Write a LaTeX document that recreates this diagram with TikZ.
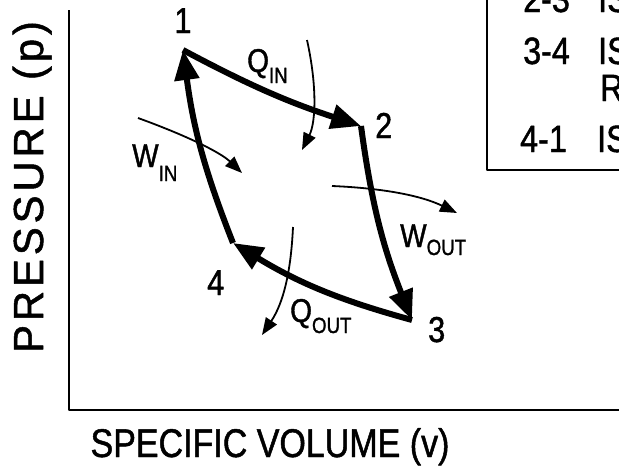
\documentclass[tikz,border=0pt]{standalone}
\usepackage{fontspec}
\setmainfont{Liberation Sans}[FakeStretch=0.85,FakeBold=1.2]
\newfontfamily\axisfont{Liberation Sans}[LetterSpace=9,FakeBold=1.2]
\usetikzlibrary{arrows.meta}

\newcommand{\flowlbl}[3][11pt]{{\fontsize{33}{33}\selectfont #2}\raisebox{-#1}{\fontsize{22}{22}\selectfont #3}}

\begin{document}
\begin{tikzpicture}[x=1pt,y=-1pt,line join=round,
  cyc/.style={line width=6pt, -{Triangle[length=30pt,width=24pt]}},
  thin/.style={line width=1.8pt, -{Triangle[length=17pt,width=13pt]}},
  frame/.style={line width=2.6pt},
  num/.style={font=\fontsize{36}{36}\selectfont, inner sep=0pt, anchor=base west},
  lbl/.style={inner sep=0pt, anchor=base west},
  tbl/.style={font=\fontsize{38}{38}\selectfont, inner sep=0pt, anchor=base west}]
  \useasboundingbox (0,0) rectangle (619,466);
  \clip (0,0) rectangle (619,466);

  % axes
  \draw[frame] (69,10) -- (69,410) -- (630,410);
  \node[anchor=base, rotate=90, inner sep=0pt, font=\axisfont\fontsize{42}{42}\selectfont]
    (ylab) at (43,187) {PRESSURE (p)};
  \node[anchor=base, inner sep=0pt, font=\fontsize{40}{40}\selectfont]
    (xlab) at (270,457) {SPECIFIC VOLUME (v)};

  % process table (cut off at the edge)
  \draw[frame] (487,-10) -- (487,170) -- (630,170);
  \node[tbl] (r23) at (523,12) {2-3};
  \node[tbl] (i23) at (598,12) {IS};
  \node[tbl] (r34) at (523,64) {3-4};
  \node[tbl] (i34) at (598,64) {IS};
  \node[tbl] (r34b) at (600,101) {R};
  \node[tbl] (r41) at (520,152) {4-1};
  \node[tbl] (i41) at (597,152) {IS};

  % cycle
  \coordinate (p1) at (183,50);
  \coordinate (p2) at (361,126);
  \coordinate (p3) at (412,320);
  \coordinate (p4) at (233,243);
  \draw[cyc] (p1) to[bend right=5] (p2);
  \draw[cyc] (p2) to[bend right=7] (p3);
  \draw[cyc] (p3) to[bend left=8] (p4);
  \draw[cyc] (p4) to[bend left=7] (p1);
  \node[num, anchor=base] (n1) at (183,33) {1};
  \node[num] (n2) at (375,138) {2};
  \node[num] (n3) at (428,342) {3};
  \node[num] (n4) at (207,295) {4};

  % heat and work
  \coordinate (qi0) at (307,40);  \coordinate (qi1) at (302,150);
  \coordinate (wi0) at (138,118); \coordinate (wi1) at (242,173);
  \coordinate (wo0) at (332,186); \coordinate (wo1) at (457,213);
  \coordinate (qo0) at (293,227); \coordinate (qo1) at (262,335);
  \draw[thin] (qi0) .. controls (317,85) and (316,122) .. (qi1);
  \draw[thin] (wi0) .. controls (185,135) and (220,152) .. (wi1);
  \draw[thin] (wo0) .. controls (380,188) and (420,195) .. (wo1);
  \draw[thin] (qo0) .. controls (291,270) and (284,302) .. (qo1);
  \node[lbl] (qin) at (247,72) {\flowlbl{Q}{IN}};
  \node[lbl] (win) at (132,167) {\flowlbl[14pt]{W}{IN}};
  \node[lbl] (wout) at (400,247) {\flowlbl[8pt]{W}{OUT}};
  \node[lbl] (qout) at (290,322) {\flowlbl{Q}{OUT}};
\end{tikzpicture}
\end{document}
